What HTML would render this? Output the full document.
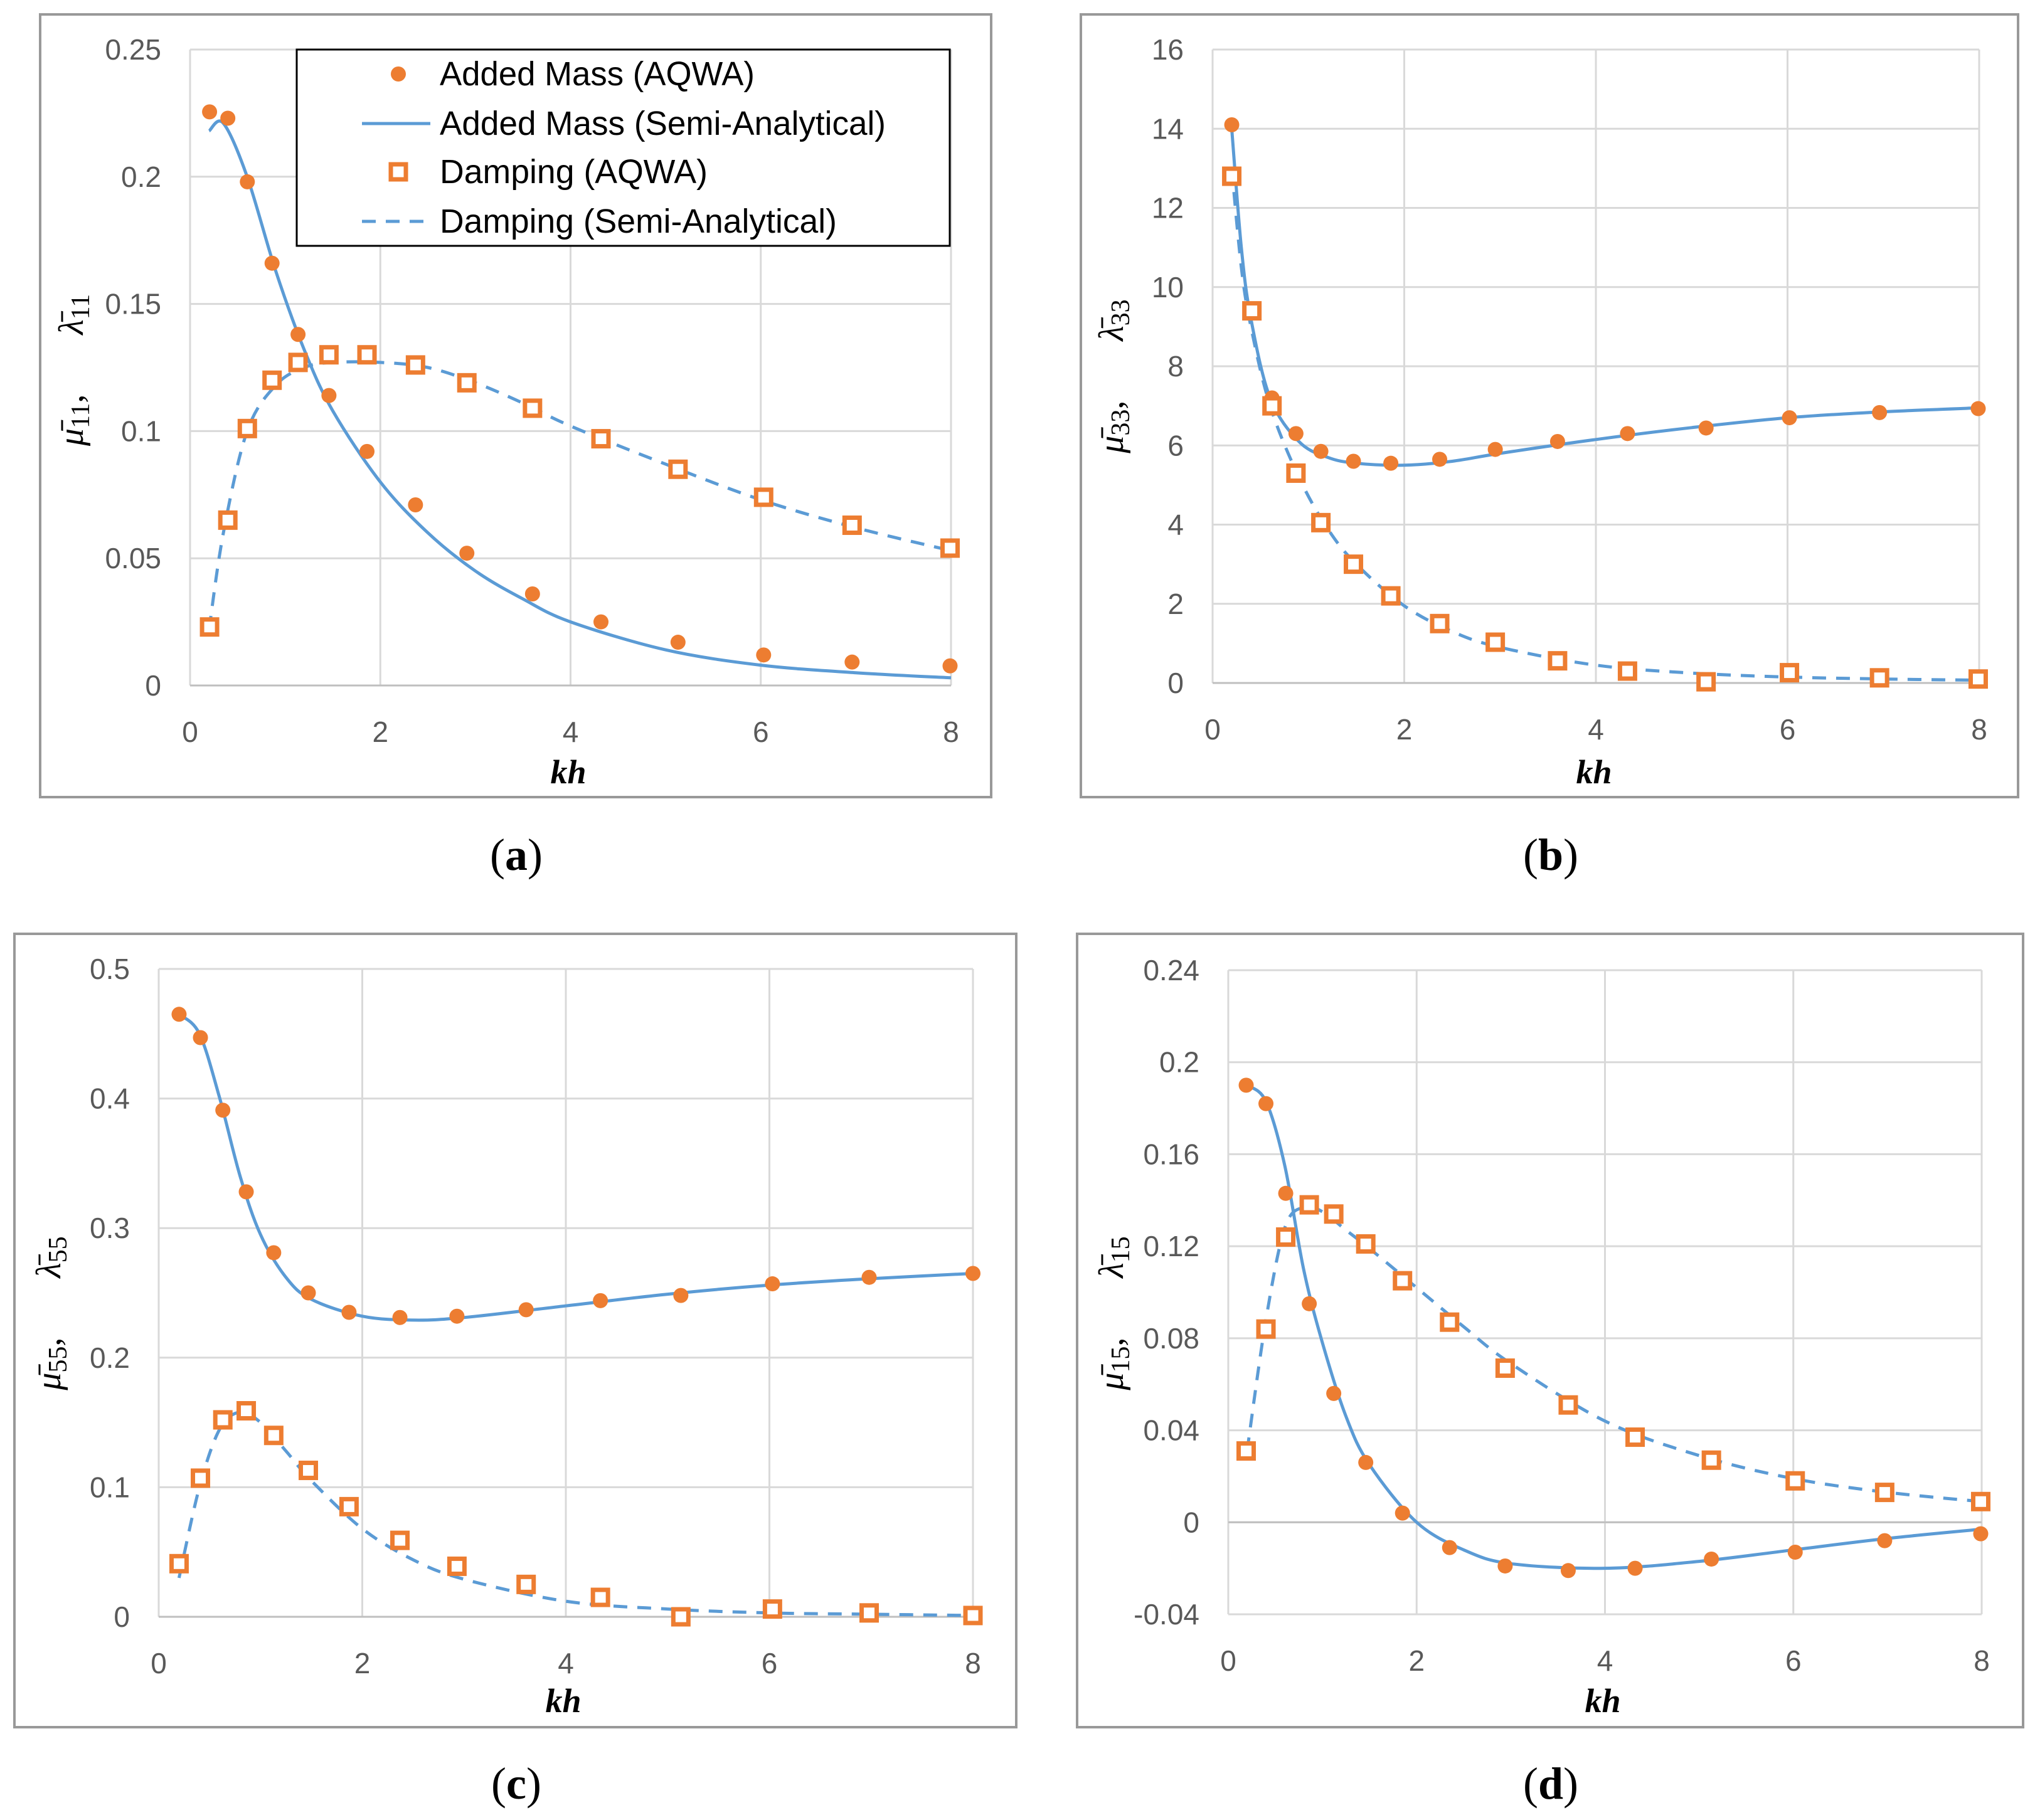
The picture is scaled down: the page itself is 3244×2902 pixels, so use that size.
<!DOCTYPE html>
<html><head><meta charset="utf-8"><style>
html,body{margin:0;padding:0;background:#fff;}
svg{display:block;}
</style></head><body>
<svg id="fig" width="3244" height="2902" viewBox="0 0 3244 2902" xmlns="http://www.w3.org/2000/svg"></svg>
<script>
// ---------- data: panel (a) ----------
const aPtsX = [0.205,0.397,0.602,0.862,1.135,1.46,1.86,2.37,2.91,3.60,4.32,5.13,6.03,6.96,7.99];
const aMassAqwa = [0.2255,0.223,0.198,0.166,0.138,0.114,0.092,0.071,0.052,0.036,0.025,0.017,0.012,0.0092,0.0077];
const aDampAqwa = [0.023,0.065,0.101,0.120,0.127,0.130,0.130,0.126,0.119,0.109,0.097,0.085,0.074,0.063,0.054];
const aCurveX = [0.2,0.35,0.6,0.9,1.2,1.5,2,2.5,3,3.5,4,5,6,7,8];
const aMassSemi = [0.218,0.221,0.200,0.163,0.132,0.108,0.080,0.060,0.045,0.034,0.025,0.014,0.008,0.005,0.003];
const aDampSemi = [0.022,0.060,0.100,0.118,0.125,0.127,0.127,0.125,0.119,0.111,0.102,0.087,0.073,0.062,0.053];
const aTicks = ["0","0.05","0.1","0.15","0.2","0.25"];
// ---------- data: panel (b) ----------
const bPtsX = [0.20,0.41,0.62,0.87,1.13,1.47,1.86,2.37,2.95,3.60,4.33,5.15,6.02,6.96,7.99];
const bMassAqwa = [14.1,9.36,7.2,6.3,5.85,5.6,5.55,5.65,5.9,6.1,6.3,6.44,6.7,6.83,6.93];
const bDampAqwa = [12.8,9.4,7.0,5.3,4.05,3.0,2.2,1.5,1.03,0.56,0.3,0.03,0.26,0.13,0.1];
const bCurveX = [0.2,0.3,0.4,0.6,0.9,1.2,1.5,2,2.5,3,4,5,6,7,8];
const bMassSemi = [14.0,11.0,9.2,7.2,6.1,5.7,5.55,5.5,5.6,5.8,6.15,6.45,6.7,6.85,6.95];
const bDampSemi = [13.0,10.5,9.0,7.0,5.2,3.9,3.0,1.95,1.3,0.9,0.45,0.25,0.15,0.1,0.07];
const bTicks = ["0","2","4","6","8","10","12","14","16"];
// ---------- data: panel (c) ----------
const cPtsX = [0.20,0.41,0.63,0.86,1.13,1.47,1.87,2.37,2.93,3.61,4.34,5.13,6.03,6.98,8.0];
const cMassAqwa = [0.465,0.447,0.391,0.328,0.281,0.250,0.235,0.231,0.232,0.237,0.244,0.248,0.257,0.262,0.265];
const cDampAqwa = [0.041,0.107,0.152,0.159,0.140,0.113,0.085,0.059,0.039,0.025,0.015,0.0,0.006,0.003,0.001];
const cCurveX = [0.2,0.4,0.6,0.8,1,1.25,1.5,2,2.5,3,4,5,6,7,8];
const cMassSemi = [0.465,0.450,0.400,0.340,0.295,0.262,0.245,0.232,0.229,0.231,0.240,0.249,0.256,0.261,0.265];
const cDampSemi = [0.030,0.100,0.145,0.158,0.150,0.128,0.105,0.068,0.044,0.029,0.012,0.006,0.003,0.002,0.001];
const cTicks = ["0","0.1","0.2","0.3","0.4","0.5"];
// ---------- data: panel (d) ----------
const dPtsX = [0.19,0.40,0.61,0.86,1.12,1.46,1.85,2.35,2.94,3.61,4.32,5.13,6.02,6.97,7.99];
const dMassAqwa = [0.190,0.182,0.143,0.095,0.056,0.026,0.004,-0.011,-0.019,-0.021,-0.020,-0.016,-0.013,-0.008,-0.005];
const dDampAqwa = [0.031,0.084,0.124,0.138,0.134,0.121,0.105,0.087,0.067,0.051,0.037,0.027,0.018,0.013,0.009];
const dCurveX = [0.2,0.4,0.6,0.8,1,1.25,1.5,2,2.5,3,4,5,6,7,8];
const dMassSemi = [0.190,0.183,0.155,0.110,0.078,0.046,0.025,0.0,-0.012,-0.018,-0.020,-0.017,-0.012,-0.007,-0.003];
const dDampSemi = [0.031,0.088,0.128,0.137,0.135,0.127,0.119,0.102,0.085,0.069,0.044,0.029,0.019,0.013,0.009];
const dTicks = ["-0.04","0","0.04","0.08","0.12","0.16","0.2","0.24"];
const xTicks = ["0","2","4","6","8"];

const NS = "http://www.w3.org/2000/svg";
const svg = document.getElementById('fig');
const ORANGE = "#ED7D31", BLUE = "#5B9BD5";
function mk(tag, attrs, parent){
  const e = document.createElementNS(NS, tag);
  for (const k in attrs) e.setAttribute(k, attrs[k]);
  (parent||svg).appendChild(e);
  return e;
}
function smoothPath(pts){
  let d = "M" + pts[0][0].toFixed(1) + "," + pts[0][1].toFixed(1);
  for (let i=0;i<pts.length-1;i++){
    const p0 = pts[Math.max(i-1,0)], p1 = pts[i], p2 = pts[i+1], p3 = pts[Math.min(i+2,pts.length-1)];
    const c1x = p1[0]+(p2[0]-p0[0])/6, c1y = p1[1]+(p2[1]-p0[1])/6;
    const c2x = p2[0]-(p3[0]-p1[0])/6, c2y = p2[1]-(p3[1]-p1[1])/6;
    d += " C"+c1x.toFixed(1)+","+c1y.toFixed(1)+" "+c2x.toFixed(1)+","+c2y.toFixed(1)+" "+p2[0].toFixed(1)+","+p2[1].toFixed(1);
  }
  return d;
}
function panel(cfg){
  const g = mk('g', {});
  
  
  const fr = mk('rect', {x:cfg.fx, y:cfg.fy, width:cfg.fw, height:cfg.fh, fill:'#fff', stroke:'#999999', 'stroke-width':4}, g);
  
  
  const X = v => cfg.x0 + (v-0)/8*(cfg.x1-cfg.x0);
  const Y = v => cfg.y0 - (v-cfg.ymin)/(cfg.ymax-cfg.ymin)*(cfg.y0-cfg.y1);
  cfg.ticks.forEach(t => {
    const v = parseFloat(t), y = Y(v);
    const gl = mk('line', {x1:cfg.x0, x2:cfg.x1, y1:y, y2:y, stroke:'#d9d9d9', 'stroke-width':3}, g);
    
    
    const tl = mk('text', {x:cfg.x0-46, y:y+16, 'text-anchor':'end', 'font-family':'Liberation Sans, sans-serif', 'font-size':46, fill:'#595959'}, g);
    tl.textContent = t;
    
    
  });
  xTicks.forEach(t => {
    const v = parseFloat(t), x = X(v);
    const gl = mk('line', {x1:x, x2:x, y1:cfg.y1, y2:cfg.y0, stroke:'#d9d9d9', 'stroke-width':3}, g);
    
    
    const tl = mk('text', {x:x, y:cfg.y0+90, 'text-anchor':'middle', 'font-family':'Liberation Sans, sans-serif', 'font-size':46, fill:'#595959'}, g);
    tl.textContent = t;
    
    
  });
  const ax = mk('line', {x1:cfg.x0, x2:cfg.x1, y1:Y(0), y2:Y(0), stroke:'#bfbfbf', 'stroke-width':3}, g);
  
  
  const xt = mk('text', {x:cfg.ktx, y:cfg.kty, 'text-anchor':'middle', 'font-family':'Liberation Serif, serif', 'font-size':54, 'font-style':'italic', 'font-weight':'bold', fill:'#000'}, g);
  xt.textContent = 'kh';
  
  
  const yt = mk('text', {x:0, y:0, 'text-anchor':'middle', transform:'translate('+cfg.ytx+','+cfg.yty+') rotate(-90)', 'font-family':'Liberation Serif, serif', 'font-size':56, 'font-style':'italic', fill:'#000'}, g);
  
  
  const t1 = mk('tspan', {}, yt); t1.textContent = 'μ\u0304';
  const t2 = mk('tspan', {'font-style':'normal','font-size':42,dy:10}, yt); t2.textContent = cfg.sub;
  const t3 = mk('tspan', {'font-style':'normal',dy:-10}, yt); t3.textContent = ',';
  const t4 = mk('tspan', {dx:95}, yt); t4.textContent = 'λ\u0304';
  const t5 = mk('tspan', {'font-style':'normal','font-size':42,dy:10}, yt); t5.textContent = cfg.sub;
  const cap = mk('text', {x:cfg.capx, y:cfg.capy, 'text-anchor':'middle', 'font-family':'Liberation Serif, serif', 'font-size':72, fill:'#000'}, g);
  
  
  const c1 = mk('tspan', {}, cap); c1.textContent='(';
  const c2 = mk('tspan', {'font-weight':'bold'}, cap); c2.textContent=cfg.id;
  const c3 = mk('tspan', {}, cap); c3.textContent=')';
  const massPts = cfg.cx.map((v,i)=>[X(v), Y(cfg.ms[i])]);
  const dampPts = cfg.cx.map((v,i)=>[X(v), Y(cfg.ds[i])]);
  const ml = mk('path', {d:smoothPath(massPts), fill:'none', stroke:BLUE, 'stroke-width':5}, g);
  
  
  const dl = mk('path', {d:smoothPath(dampPts), fill:'none', stroke:BLUE, 'stroke-width':5, 'stroke-dasharray':'22,16'}, g);
  
  
  cfg.px.forEach((v,i)=>{
    const c = mk('circle', {cx:X(v), cy:Y(cfg.ma[i]), r:12, fill:ORANGE}, g);
    
    
  });
  cfg.px.forEach((v,i)=>{
    const s = mk('rect', {x:X(v)-12, y:Y(cfg.da[i])-12, width:24, height:24, fill:'#fff', stroke:ORANGE, 'stroke-width':7}, g);
    
    
  });
  return g;
}

panel({id:'a', fx:64, fy:23, fw:1516, fh:1248, x0:303, x1:1516, y0:1093, y1:79, ymin:0, ymax:0.25, ticks:aTicks, sub:'11',
  px:aPtsX, ma:aMassAqwa, da:aDampAqwa, cx:aCurveX, ms:aMassSemi, ds:aDampSemi, ktx:906, kty:1249, ytx:132, yty:590, capx:823, capy:1387});
panel({id:'b', fx:1723, fy:23, fw:1494, fh:1248, x0:1933, x1:3155, y0:1089, y1:79, ymin:0, ymax:16, ticks:bTicks, sub:'33',
  px:bPtsX, ma:bMassAqwa, da:bDampAqwa, cx:bCurveX, ms:bMassSemi, ds:bDampSemi, ktx:2541, kty:1249, ytx:1790, yty:600, capx:2472, capy:1387});
panel({id:'c', fx:23, fy:1489, fw:1597, fh:1265, x0:253, x1:1551, y0:2578, y1:1545, ymin:0, ymax:0.5, ticks:cTicks, sub:'55',
  px:cPtsX, ma:cMassAqwa, da:cDampAqwa, cx:cCurveX, ms:cMassSemi, ds:cDampSemi, ktx:898, kty:2730, ytx:96, yty:2094, capx:823, capy:2868});
panel({id:'d', fx:1717, fy:1489, fw:1508, fh:1265, x0:1958, x1:3159, y0:2574, y1:1547, ymin:-0.04, ymax:0.24, ticks:dTicks, sub:'15',
  px:dPtsX, ma:dMassAqwa, da:dDampAqwa, cx:dCurveX, ms:dMassSemi, ds:dDampSemi, ktx:2555, kty:2730, ytx:1790, yty:2094, capx:2472, capy:2868});

const lg = mk('g', {});


const lb = mk('rect', {x:473, y:79, width:1041, height:313, fill:'#fff', stroke:'#000', 'stroke-width':3}, lg);


const legendLabels = ["Added Mass (AQWA)","Added Mass (Semi-Analytical)","Damping (AQWA)","Damping (Semi-Analytical)"];
const legendY = [118,197,274,353];
const legendW = [502,711,427,633];
legendLabels.forEach((t,i)=>{
  const y = legendY[i];
  let m;
  if (i===0) m = mk('circle', {cx:635, cy:y, r:12, fill:ORANGE}, lg);
  else if (i===2) m = mk('rect', {x:623, y:y-12, width:24, height:24, fill:'#fff', stroke:ORANGE, 'stroke-width':7}, lg);
  else m = mk('line', {x1:577, x2:686, y1:y, y2:y, stroke:BLUE, 'stroke-width':5, 'stroke-dasharray': i===3 ? '22,16' : 'none'}, lg);
  
  
  const tx = mk('text', {x:701, y:y+18, 'font-family':'Liberation Sans, sans-serif', 'font-size':54, fill:'#000', textLength:legendW[i], lengthAdjust:'spacingAndGlyphs'}, lg);
  tx.textContent = t;
  
  
});
</script>
</body></html>
